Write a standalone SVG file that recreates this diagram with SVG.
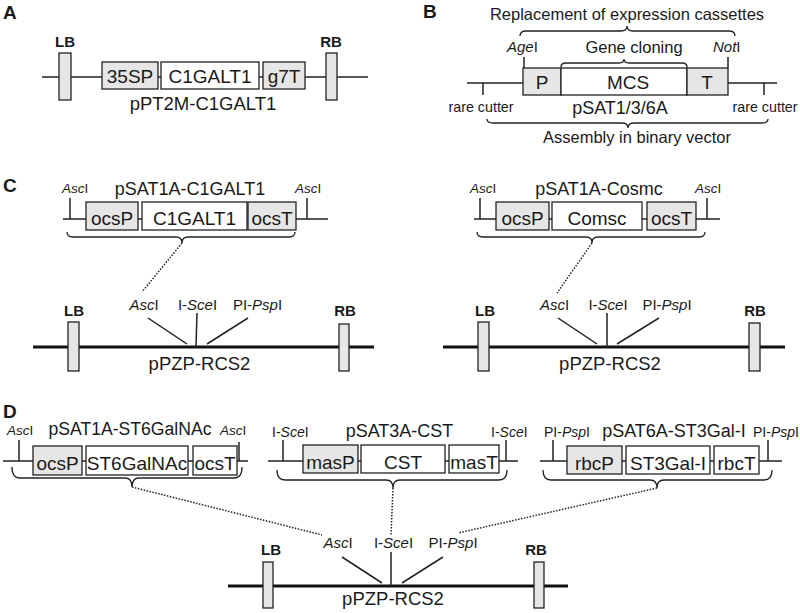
<svg xmlns="http://www.w3.org/2000/svg" width="800" height="613" viewBox="0 0 800 613">
<style>
text{font-family:"Liberation Sans",Arial,sans-serif;fill:#1a1a1a}
.pl{font-weight:bold;font-size:19px}
.bd{font-weight:bold;font-size:15px;text-anchor:middle}
.bx{font-size:19px;text-anchor:middle}
.nm{font-size:18px;text-anchor:middle}
.re{font-size:13.5px}
.rb{font-size:15px;text-anchor:middle}
.cap{font-size:16.5px;text-anchor:middle}
.i{font-style:italic}
.ln{stroke:#222;stroke-width:1.5;fill:none}
.bk{stroke:#111;stroke-width:3;fill:none}
.br{stroke:#222;stroke-width:1.3;fill:none}
.g{fill:#e6e6e6;stroke:#222;stroke-width:1.3}
.w{fill:#fff;stroke:#222;stroke-width:1.3}
.dt{stroke:#222;stroke-width:1.5;fill:none;stroke-dasharray:1.5 1.5}
</style>
<rect width="800" height="613" fill="#fff"/>

<!-- Panel A -->
<g id="panelA">
<text class="pl" x="3" y="19">A</text>
<line class="ln" x1="42" y1="77" x2="368" y2="77"/>
<g id="A-LB"><rect class="g" x="59" y="53" width="12" height="47"/><text class="bd" x="65" y="47">LB</text></g>
<g id="A-RB"><rect class="g" x="326" y="53" width="11" height="47"/><text class="bd" x="331" y="47">RB</text></g>
<g id="A-35SP"><rect class="g" x="102" y="62" width="56" height="27"/><text class="bx" x="130" y="83">35SP</text></g>
<g id="A-C1GALT1"><rect class="w" x="161" y="62" width="98" height="27"/><text class="bx" x="210" y="83">C1GALT1</text></g>
<g id="A-g7T"><rect class="g" x="263" y="62" width="42" height="27"/><text class="bx" x="284" y="83">g7T</text></g>
<text class="nm" x="203" y="110" style="font-size:18.5px">pPT2M-C1GALT1</text>
</g>

<!-- Panel B -->
<g id="panelB">
<text class="pl" x="423" y="18">B</text>
<text class="cap" x="627" y="20">Replacement of expression cassettes</text>
<path class="br" d="M520,36 Q520,31 526,31 L621,31 Q627,31 627,26 Q627,31 633,31 L729,31 Q735,31 735,36"/>
<text x="507" y="52" style="font-size:15px"><tspan class="i">Age</tspan>I</text>
<text x="713" y="52" style="font-size:15px"><tspan class="i">Not</tspan>I</text>
<line class="ln" x1="524" y1="57" x2="524" y2="68"/>
<line class="ln" x1="728" y1="57" x2="728" y2="68"/>
<text class="cap" x="634" y="53">Gene cloning</text>
<path class="br" d="M561,67 Q561,63 566,63 L619,63 Q624,63 624,59 Q624,63 629,63 L682,63 Q687,63 687,67"/>
<line class="ln" x1="467" y1="83" x2="777" y2="83"/>
<line class="ln" x1="483" y1="83" x2="483" y2="95"/>
<line class="ln" x1="764" y1="83" x2="764" y2="95"/>
<g id="B-P"><rect class="g" x="523" y="68" width="38" height="27"/><text class="bx" x="542" y="89">P</text></g>
<g id="B-MCS"><rect class="w" x="561" y="68" width="126" height="27"/><text class="bx" x="628" y="89">MCS</text></g>
<g id="B-T"><rect class="g" x="687" y="68" width="41" height="27"/><text class="bx" x="707" y="89">T</text></g>
<text x="481" y="112" style="font-size:14.3px;text-anchor:middle">rare cutter</text>
<text x="765" y="112" style="font-size:14.3px;text-anchor:middle">rare cutter</text>
<text class="nm" x="620" y="114">pSAT1/3/6A</text>
<path class="br" d="M487,119 Q487,123 493,123 L622,123 Q628,123 628,128 Q628,123 634,123 L762,123 Q768,123 768,119"/>
<text class="cap" x="637" y="143">Assembly in binary vector</text>
</g>

<!-- Panel C -->
<g id="panelC">
<text class="pl" x="3" y="192">C</text>
<!-- left cassette -->
<line class="ln" x1="63" y1="219" x2="328" y2="219"/>
<line class="ln" x1="70" y1="198" x2="70" y2="219"/>
<line class="ln" x1="307" y1="198" x2="307" y2="219"/>
<text class="re" x="62" y="193"><tspan class="i">Asc</tspan>I</text>
<text class="re" x="295" y="193"><tspan class="i">Asc</tspan>I</text>
<text class="nm" x="190" y="195">pSAT1A-C1GALT1</text>
<g id="C1-ocsP"><rect class="g" x="86" y="202" width="52" height="28"/><text class="bx" x="112" y="225">ocsP</text></g>
<g id="C1-C1GALT1"><rect class="w" x="142" y="202" width="105" height="28"/><text class="bx" x="194.5" y="225">C1GALT1</text></g>
<g id="C1-ocsT"><rect class="g" x="248" y="202" width="48" height="28"/><text class="bx" x="272" y="225">ocsT</text></g>
<path class="br" d="M67,232 Q67,237 73,237 L176,237 Q182,237 182,243 Q182,237 188,237 L289,237 Q295,237 295,232"/>
<!-- left backbone -->
<line class="bk" x1="33" y1="347" x2="374" y2="347"/>
<g id="C1-LB"><rect class="g" x="68" y="322" width="11" height="49"/><text class="bd" x="74" y="316">LB</text></g>
<g id="C1-RB"><rect class="g" x="339" y="324" width="10" height="47"/><text class="bd" x="345" y="316">RB</text></g>
<line class="ln" x1="148" y1="318" x2="187" y2="344"/>
<line class="ln" x1="197" y1="313" x2="196" y2="347"/>
<line class="ln" x1="248" y1="318" x2="207" y2="344"/>
<text class="rb" x="144" y="310"><tspan class="i">Asc</tspan>I</text>
<text class="rb" x="197.5" y="310">I-<tspan class="i">Sce</tspan>I</text>
<text class="rb" x="257.5" y="310">PI-<tspan class="i">Psp</tspan>I</text>
<text class="nm" x="199.5" y="370" style="font-size:18.5px">pPZP-RCS2</text>

<!-- right cassette -->
<line class="ln" x1="474" y1="219" x2="720" y2="219"/>
<line class="ln" x1="480" y1="198" x2="480" y2="219"/>
<line class="ln" x1="707" y1="198" x2="707" y2="219"/>
<text class="re" x="470" y="193"><tspan class="i">Asc</tspan>I</text>
<text class="re" x="695" y="193"><tspan class="i">Asc</tspan>I</text>
<text class="nm" x="599" y="195">pSAT1A-Cosmc</text>
<g id="C2-ocsP"><rect class="g" x="496" y="202" width="53" height="28"/><text class="bx" x="522.5" y="225">ocsP</text></g>
<g id="C2-Comsc"><rect class="w" x="552" y="202" width="90" height="28"/><text class="bx" x="597" y="225">Comsc</text></g>
<g id="C2-ocsT"><rect class="g" x="647" y="202" width="49" height="28"/><text class="bx" x="671.5" y="225">ocsT</text></g>
<path class="br" d="M477,232 Q477,237 483,237 L586,237 Q592,237 592,243 Q592,237 598,237 L699,237 Q705,237 705,232"/>
<line class="bk" x1="443" y1="347" x2="785" y2="347"/>
<g id="C2-LB"><rect class="g" x="478" y="322" width="11" height="49"/><text class="bd" x="485" y="316">LB</text></g>
<g id="C2-RB"><rect class="g" x="749" y="323" width="11" height="48"/><text class="bd" x="755" y="316">RB</text></g>
<line class="ln" x1="558" y1="318" x2="597" y2="344"/>
<line class="ln" x1="607" y1="313" x2="607" y2="347"/>
<line class="ln" x1="659" y1="318" x2="617" y2="344"/>
<text class="rb" x="554.5" y="310"><tspan class="i">Asc</tspan>I</text>
<text class="rb" x="608" y="310">I-<tspan class="i">Sce</tspan>I</text>
<text class="rb" x="667" y="310">PI-<tspan class="i">Psp</tspan>I</text>
<text class="nm" x="610" y="370" style="font-size:18.5px">pPZP-RCS2</text>
</g>

<!-- Panel D -->
<g id="panelD">
<text class="pl" x="3" y="418">D</text>
<!-- left cassette -->
<line class="ln" x1="3" y1="461" x2="248" y2="461"/>
<line class="ln" x1="19" y1="440" x2="19" y2="461"/>
<line class="ln" x1="239" y1="442" x2="239" y2="461"/>
<text class="re" x="7" y="435"><tspan class="i">Asc</tspan>I</text>
<text class="re" x="220" y="435"><tspan class="i">Asc</tspan>I</text>
<text class="nm" x="130" y="435" style="font-size:17.6px">pSAT1A-ST6GalNAc</text>
<g id="D1-ocsP"><rect class="g" x="33" y="446" width="49" height="29"/><text class="bx" x="57.5" y="470">ocsP</text></g>
<g id="D1-ST6GalNAc"><rect class="w" x="86" y="446" width="102" height="29"/><text class="bx" x="137" y="470">ST6GalNAc</text></g>
<g id="D1-ocsT"><rect class="w" x="193" y="446" width="44" height="29"/><text class="bx" x="215" y="470">ocsT</text></g>
<path class="br" d="M12,467 Q12,478 20,478 L125,478 Q132,478 132,487 Q132,478 139,478 L234,478 Q242,478 242,467"/>
<!-- middle cassette -->
<line class="ln" x1="268" y1="461" x2="518" y2="461"/>
<line class="ln" x1="283" y1="440" x2="283" y2="461"/>
<line class="ln" x1="506" y1="440" x2="506" y2="461"/>
<text class="re" x="272" y="437" style="font-size:14px">I-<tspan class="i">Sce</tspan>I</text>
<text class="re" x="491" y="437" style="font-size:14px">I-<tspan class="i">Sce</tspan>I</text>
<text class="nm" x="399.5" y="437">pSAT3A-CST</text>
<g id="D2-masP"><rect class="g" x="303" y="445" width="55" height="28"/><text class="bx" x="330.5" y="469">masP</text></g>
<g id="D2-CST"><rect class="w" x="361" y="445" width="84" height="28"/><text class="bx" x="403" y="469">CST</text></g>
<g id="D2-masT"><rect class="w" x="449" y="445" width="50" height="28"/><text class="bx" x="474" y="469">masT</text></g>
<path class="br" d="M277,470 Q277,480 285,480 L386,480 Q393,480 393,488 Q393,480 400,480 L499,480 Q507,480 507,470"/>
<!-- right cassette -->
<line class="ln" x1="540" y1="461" x2="782" y2="461"/>
<line class="ln" x1="553" y1="440" x2="553" y2="461"/>
<line class="ln" x1="768" y1="440" x2="768" y2="461"/>
<text class="re" x="544" y="437" style="font-size:14px">PI-<tspan class="i">Psp</tspan>I</text>
<text class="re" x="753" y="437" style="font-size:14px">PI-<tspan class="i">Psp</tspan>I</text>
<text class="nm" x="674" y="437">pSAT6A-ST3Gal-I</text>
<g id="D3-rbcP"><rect class="g" x="567" y="446" width="55" height="28"/><text class="bx" x="594.5" y="470">rbcP</text></g>
<g id="D3-ST3Gal-I"><rect class="w" x="626" y="446" width="84" height="28"/><text class="bx" x="668" y="470">ST3Gal-I</text></g>
<g id="D3-rbcT"><rect class="w" x="714" y="446" width="45" height="28"/><text class="bx" x="736.5" y="470">rbcT</text></g>
<path class="br" d="M543,470 Q543,480 551,480 L650,480 Q657,480 657,488 Q657,480 664,480 L764,480 Q772,480 772,470"/>
<!-- backbone -->
<line class="bk" x1="228" y1="586" x2="568" y2="586"/>
<g id="D-LB"><rect class="g" x="263" y="562" width="10" height="46"/><text class="bd" x="271" y="555">LB</text></g>
<g id="D-RB"><rect class="g" x="534" y="562" width="10" height="46"/><text class="bd" x="536" y="555">RB</text></g>
<line class="ln" x1="342" y1="557" x2="382" y2="583"/>
<line class="ln" x1="391" y1="552" x2="391" y2="586"/>
<line class="ln" x1="443" y1="557" x2="402" y2="583"/>
<text class="rb" x="338" y="548"><tspan class="i">Asc</tspan>I</text>
<text class="rb" x="393.5" y="548">I-<tspan class="i">Sce</tspan>I</text>
<text class="rb" x="453" y="548">PI-<tspan class="i">Psp</tspan>I</text>
<text class="nm" x="393" y="605" style="font-size:18.5px">pPZP-RCS2</text>
</g>

<!-- Connectors -->
<g id="connectors">
<line class="dt" x1="182" y1="243" x2="142" y2="292"/>
<line class="dt" x1="592" y1="243" x2="557" y2="293"/>
<line class="dt" x1="132" y1="487" x2="322" y2="535"/>
<line class="dt" x1="393" y1="488" x2="391" y2="535"/>
<line class="dt" x1="657" y1="488" x2="458" y2="533"/>
</g>
</svg>
